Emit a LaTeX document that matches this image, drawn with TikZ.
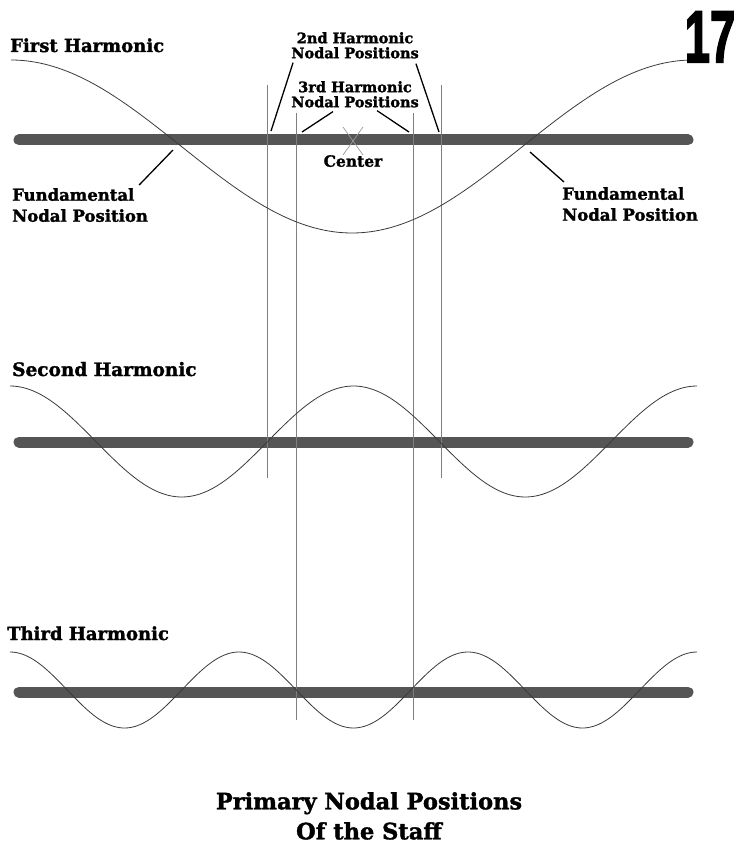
\documentclass[tikz,border=0pt]{standalone}
\usepackage{fontspec}
\setmainfont{DejaVu Serif}[BoldFeatures={FakeBold=1.6}]
\newfontfamily\pagenumfont{Liberation Sans}[BoldFeatures={FakeBold=3}]
\usepackage{tikz}
\usetikzlibrary{positioning,calc}
\definecolor{staffGray}{HTML}{555555}
\definecolor{waveGray}{HTML}{3A3A3A}
\definecolor{nodalGray}{HTML}{7F7F7F}
\definecolor{centerGray}{HTML}{9A9A9A}

\begin{document}
\begin{tikzpicture}[
            x=1pt, y=-1pt,
            staff/.style={
                    draw=staffGray,
                    line width=11pt,
                    line cap=round
                },
            wave/.style={
                    draw=waveGray,
                    line width=0.8pt
                },
            nodal/.style={
                    draw=nodalGray,
                    line width=0.6pt
                },
            leader/.style={
                    draw=black,
                    line width=1.3pt
                },
            harmlabel/.style={
                    anchor=base west,
                    inner sep=0pt,
                    font=\bfseries\fontsize{18}{20}\selectfont
                },
            nodelabel/.style={
                    inner sep=0pt,
                    align=center,
                    font=\bfseries\fontsize{14.5}{15}\selectfont
                },
            fundlabel/.style={
                    inner sep=0pt,
                    align=left,
                    font=\bfseries\fontsize{16.5}{21}\selectfont
                }
        ]
        \useasboundingbox (0,0) rectangle (737,850);

        % Staffs
        \foreach \y in {140,442,692}
            \draw[staff] (19,\y) -- (688,\y);

        % Nodal position lines
        \foreach \x/\top/\bot in {267/85/478, 441/85/478, 296/113/720, 413/113/720}
            \draw[nodal] (\x,\top) -- (\x,\bot);

        % Center mark
        \coordinate (centre) at (353,141);
        \draw[draw=centerGray, line width=0.7pt] ($(centre)+(-10,-14)$) -- ($(centre)+(10,14)$)
                                                ($(centre)+(10,-14)$) -- ($(centre)+(-10,14)$);

        % Waves
        \draw[wave] plot[domain=11:693, samples=160] (\x, {146.5 - 86.5*cos((\x-11)/682*360)});
        \draw[wave] plot[domain=10:697, samples=200] (\x, {441.5 - 55.5*cos((\x-10)/343.5*360)});
        \draw[wave] plot[domain=10:697, samples=240] (\x, {690 - 38*cos((\x-10)/229*360)});

        % Labels
        \node[harmlabel] (first) at (10,52) {First Harmonic};
        \node[harmlabel, font=\bfseries\fontsize{18.5}{20}\selectfont] (second) at (12,376) {Second Harmonic};
        \node[harmlabel] (third) at (7,640) {Third Harmonic};

        \node[nodelabel, anchor=north] (nodal2) at (355,32) {2nd Harmonic\\Nodal Positions};
        \node[nodelabel, anchor=north] (nodal3) at (355,81) {3rd Harmonic\\Nodal Positions};
        \node[nodelabel, below=14pt of centre, anchor=north, font=\bfseries\fontsize{15.5}{17}\selectfont] (centerlbl) {Center};

        \node[fundlabel, anchor=north west] (fundL) at (12,188) {Fundamental\\Nodal Position};
        \node[fundlabel, anchor=north west] (fundR) at (562,187) {Fundamental\\Nodal Position};

        \node[inner sep=0pt, anchor=base] (pagenum) at (710,62)
            {\scalebox{0.62}[1]{\pagenumfont\bfseries\fontsize{73}{73}\selectfont 17}};

        \node[inner sep=0pt, align=center, anchor=north, font=\bfseries\fontsize{22.5}{30}\selectfont] (title) at (369,792)
            {Primary Nodal Positions\\Of the Staff};

        % Leaders
        \coordinate (tip2L) at (271,131);
        \coordinate (tip2R) at (439,132);
        \coordinate (tip3L) at (302,132);
        \coordinate (tip3R) at (409,132);
        \coordinate (tipFL) at (173,150);
        \coordinate (tipFR) at (530,152);

        \draw[leader] ([xshift=2pt,yshift=-4pt]nodal2.south west) -- (tip2L);
        \draw[leader] ([xshift=-3pt,yshift=-5pt]nodal2.south east) -- (tip2R);
        \draw[leader] ([xshift=-22pt,yshift=-4pt]nodal3.south) -- (tip3L);
        \draw[leader] ([xshift=22pt,yshift=-3pt]nodal3.south) -- (tip3R);
        \draw[leader] ([xshift=-9pt,yshift=3pt]fundL.north east) -- (tipFL);
        \draw[leader] ([xshift=2pt,yshift=5pt]fundR.north west) -- (tipFR);

    \end{tikzpicture}
\end{document}
